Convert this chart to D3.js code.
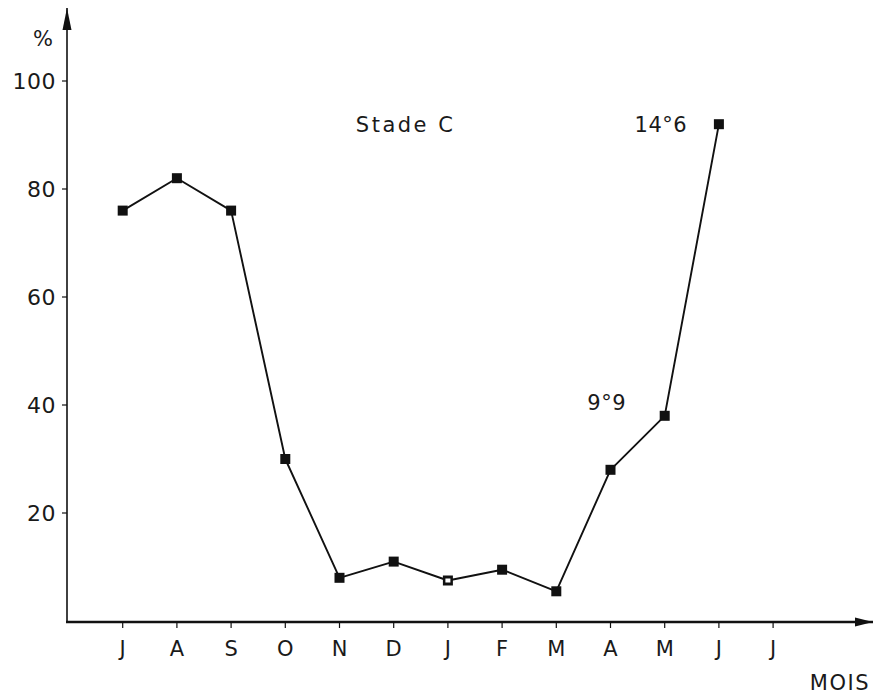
<!DOCTYPE html>
<html>
<head>
<meta charset="utf-8">
<script src="https://cdn.jsdelivr.net/npm/d3@7/dist/d3.min.js"></script>
<style>
  html, body { margin: 0; padding: 0; background: #fff; }
  svg text { font-family: "DejaVu Sans", "Liberation Sans", sans-serif; fill: #1a1a1a; }
</style>
</head>
<body>
<svg id="chart" width="875" height="698"></svg>
<script>
// Monthly percentage of buds at "Stade C"
const months = ["J", "A", "S", "O", "N", "D", "J", "F", "M", "A", "M", "J", "J"];
const values = [76, 82, 76, 30, 8, 11, 7.5, 9.5, 5.5, 28, 38, 92];
const yTicks = [20, 40, 60, 80, 100];
const notes = [
  { text: "Stade C", month: 5.22, value: 92 },
  { text: "14°6", month: 9.93, value: 92 },
  { text: "9°9", month: 8.93, value: 40.5 }
];

const svg = d3.select("#chart");
const x0 = 67, yBase = 622;

const x = d3.scaleLinear().domain([0, 12]).range([122.7, 773.1]);
const y = d3.scaleLinear().domain([0, 100]).range([621, 81]);

const ink = "#111";

// Arrow heads
const defs = svg.append("defs");
defs.append("marker").attr("id", "arrY")
  .attr("viewBox", "0 0 22 10").attr("refX", 22).attr("refY", 5)
  .attr("markerWidth", 22).attr("markerHeight", 10)
  .attr("markerUnits", "userSpaceOnUse")
  .attr("orient", "auto")
  .append("path").attr("d", "M0,0.5 L22,5 L0,9.5 Z").attr("fill", ink);

defs.append("marker").attr("id", "arrX")
  .attr("viewBox", "0 0 18 10").attr("refX", 18).attr("refY", 5)
  .attr("markerWidth", 18).attr("markerHeight", 10)
  .attr("markerUnits", "userSpaceOnUse")
  .attr("orient", "auto")
  .append("path").attr("d", "M0,0.5 L18,5 L0,9.5 Z").attr("fill", ink);

// Y axis
svg.append("line")
  .attr("x1", x0).attr("y1", yBase).attr("x2", x0).attr("y2", 8)
  .attr("stroke", ink).attr("stroke-width", 1.6)
  .attr("marker-end", "url(#arrY)");

// X axis
svg.append("line")
  .attr("x1", x0 - 1).attr("y1", yBase).attr("x2", 873).attr("y2", yBase)
  .attr("stroke", ink).attr("stroke-width", 2.6)
  .attr("marker-end", "url(#arrX)");

// Y ticks and labels
const yt = svg.append("g");
yTicks.forEach(v => {
  yt.append("line")
    .attr("x1", x0 - 5).attr("x2", x0).attr("y1", y(v)).attr("y2", y(v))
    .attr("stroke", ink).attr("stroke-width", 1.2);
  yt.append("text")
    .attr("x", x0 - 11).attr("y", y(v)).attr("dy", "0.36em")
    .attr("text-anchor", "end")
    .attr("font-size", 22)
    .attr("letter-spacing", 0.5)
    .text(v);
});

svg.append("text")
  .attr("x", 43).attr("y", 46).attr("text-anchor", "middle")
  .attr("font-size", 21)
  .text("%");

// X ticks and month labels
const xt = svg.append("g");
months.forEach((m, i) => {
  xt.append("line")
    .attr("x1", x(i)).attr("x2", x(i)).attr("y1", yBase).attr("y2", yBase + 6)
    .attr("stroke", ink).attr("stroke-width", 1.2);
  xt.append("text")
    .attr("x", x(i)).attr("y", 656)
    .attr("text-anchor", "middle")
    .attr("font-size", 21)
    .text(m);
});

svg.append("text")
  .attr("x", 870).attr("y", 690).attr("text-anchor", "end")
  .attr("font-size", 21)
  .attr("letter-spacing", 1.5)
  .text("MOIS");

// Data line
const line = d3.line().x((d, i) => x(i)).y(d => y(d));
svg.append("path")
  .datum(values)
  .attr("d", line)
  .attr("fill", "none")
  .attr("stroke", ink)
  .attr("stroke-width", 1.9)
  .attr("stroke-linejoin", "round");

// Square markers
const s = 10;
svg.append("g").selectAll("rect")
  .data(values)
  .join("rect")
  .attr("x", (d, i) => x(i) - s / 2)
  .attr("y", d => y(d) - s / 2)
  .attr("width", s).attr("height", s)
  .attr("fill", ink);

// Open centre on the January point
svg.append("rect")
  .attr("x", x(6) - 2.5).attr("y", y(values[6]) - 2)
  .attr("width", 5).attr("height", 4)
  .attr("fill", "#fff");

// Annotations
svg.append("g").selectAll("text")
  .data(notes)
  .join("text")
  .attr("x", d => x(d.month))
  .attr("y", d => y(d.value))
  .attr("dy", "0.36em")
  .attr("text-anchor", "middle")
  .attr("font-size", 21)
  .attr("letter-spacing", d => d.text === "Stade C" ? 2.5 : 0.5)
  .text(d => d.text);
</script>
</body>
</html>
